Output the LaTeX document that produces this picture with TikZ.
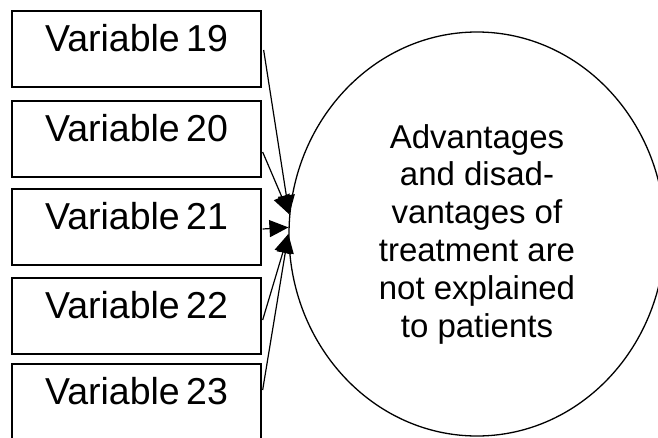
\documentclass[tikz,border=0pt]{standalone}
\usepackage{fontspec}
\setmainfont{Liberation Sans}
\usetikzlibrary{arrows.meta,calc,shapes.geometric}
\begin{document}
\begin{tikzpicture}[x=1pt,y=-1pt,
  varbox/.style={draw, line width=1.3pt, minimum width=249pt, minimum height=76pt,
    inner sep=0pt, font=\fontsize{37.5}{44}\selectfont, text height=0.75em, text depth=0.3em},
  conn/.style={line width=1.2pt, -{Triangle[length=19pt,width=17pt]}},
  bigell/.style={draw, ellipse, line width=1.3pt, minimum width=376pt, minimum height=404pt,
    inner sep=0pt, align=center, font=\fontsize{33}{37.8}\selectfont}]
\useasboundingbox (0,0) rectangle (658,437);
\node[varbox] (v19) at (136.5,49) {Variable\hspace{0.17em}19};
\node[varbox] (v20) at (136.5,139) {Variable\hspace{0.17em}20};
\node[varbox] (v21) at (136.5,227) {Variable\hspace{0.17em}21};
\node[varbox] (v22) at (136.5,316) {Variable\hspace{0.17em}22};
\node[varbox] (v23) at (136.5,402) {Variable\hspace{0.17em}23};
\node[bigell] (ell) at (477,234) {Advantages\\and disad-\\vantages of\\treatment are\\not explained\\to patients};
\draw[conn] ($(v19.east)+(2,1)$) -- (ell.174);
\draw[conn] ($(v20.east)+(1,13)$) -- (ell.174);
\draw[conn] ($(v21.east)+(1,2)$) -- (ell.178);
\draw[conn] ($(v22.east)+(1,4)$) -- (ell.180);
\draw[conn] ($(v23.east)+(1,-12)$) -- (ell.180);
\end{tikzpicture}
\end{document}
